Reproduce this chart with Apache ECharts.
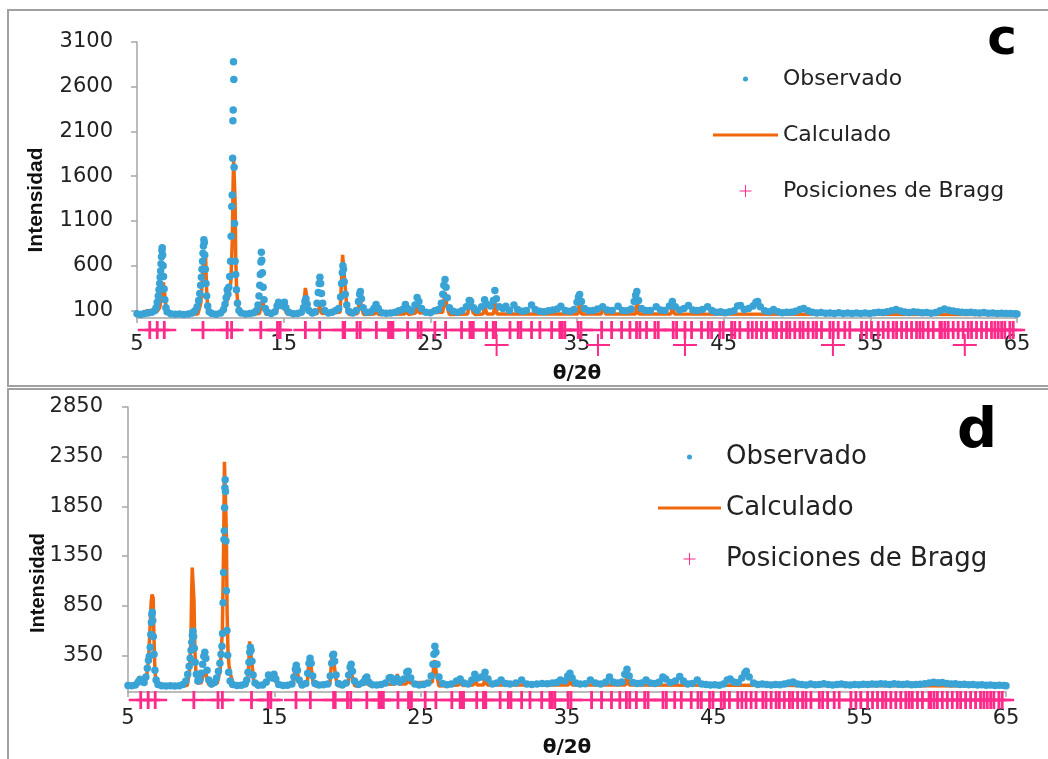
<!DOCTYPE html>
<html><head><meta charset="utf-8">
<script src="https://cdn.jsdelivr.net/npm/echarts@6/dist/echarts.min.js"></script>
<style>html,body{margin:0;padding:0;background:#fff}#chart{width:1048px;height:759px}</style>
</head><body><div id="chart"></div>
<script>
// ---------- data ----------
const yTicksC = [100, 600, 1100, 1600, 2100, 2600, 3100];
const yTicksD = [350, 850, 1350, 1850, 2350, 2850];

const obsC = [[5.00,62],[5.25,55],[5.50,66],[5.75,72],[6.00,78],[6.20,95],[6.30,130],[6.38,190],[6.45,260],[6.50,330],[6.55,400],[6.58,470],[6.61,540],[6.64,620],[6.67,700],[6.70,770],[6.72,800],[6.75,720],[6.78,600],[6.81,480],[6.85,340],[6.90,220],[6.97,130],[7.05,85],[7.30,62],[7.60,56],[7.90,60],[8.20,55],[8.50,60],[8.75,70],[8.95,95],[9.10,140],[9.20,210],[9.28,290],[9.34,380],[9.39,470],[9.43,560],[9.47,650],[9.50,740],[9.53,820],[9.56,890],[9.59,860],[9.62,720],[9.66,560],[9.70,400],[9.75,260],[9.82,150],[9.92,85],[10.10,65],[10.40,58],[10.70,70],[10.90,110],[11.00,170],[11.08,240],[11.15,330],[11.20,280],[11.26,360],[11.32,480],[11.38,650],[11.42,930],[11.46,1260],[11.49,1390],[11.52,1800],[11.54,2220],[11.56,2340],[11.58,2880],[11.60,2680],[11.62,1700],[11.65,1070],[11.69,650],[11.73,500],[11.78,330],[11.85,180],[11.95,100],[12.10,70],[12.40,60],[12.70,66],[12.95,75],[13.15,100],[13.25,160],[13.32,260],[13.37,380],[13.41,500],[13.45,640],[13.48,750],[13.51,660],[13.55,520],[13.60,360],[13.66,220],[13.75,120],[13.90,80],[14.15,65],[14.40,85],[14.55,150],[14.65,190],[14.80,170],[14.95,150],[15.05,190],[15.15,130],[15.35,80],[15.65,62],[15.95,65],[16.20,80],[16.35,130],[16.45,200],[16.52,230],[16.60,170],[16.72,100],[16.95,70],[17.15,85],[17.28,180],[17.36,300],[17.42,400],[17.47,470],[17.52,400],[17.58,290],[17.66,180],[17.80,100],[18.05,70],[18.30,80],[18.55,100],[18.75,120],[18.88,250],[18.95,400],[19.00,520],[19.04,600],[19.08,560],[19.13,420],[19.20,280],[19.30,160],[19.45,90],[19.70,70],[19.95,100],[20.10,200],[20.18,280],[20.23,312],[20.30,230],[20.42,130],[20.65,80],[20.95,85],[21.15,120],[21.30,165],[21.45,120],[21.70,75],[22.00,68],[22.30,72],[22.60,80],[22.85,95],[23.10,110],[23.30,165],[23.45,120],[23.70,95],[23.95,160],[24.10,245],[24.22,200],[24.40,120],[24.70,80],[25.00,75],[25.30,95],[25.55,110],[25.75,180],[25.85,280],[25.92,380],[26.00,445],[26.07,360],[26.15,240],[26.30,130],[26.55,90],[26.85,80],[27.15,95],[27.45,140],[27.65,210],[27.75,200],[27.95,130],[28.20,100],[28.50,140],[28.70,220],[28.85,170],[29.10,150],[29.30,210],[29.40,323],[29.50,230],[29.70,140],[29.95,120],[30.15,145],[30.40,100],[30.70,160],[30.95,110],[31.25,90],[31.55,100],[31.90,160],[32.15,110],[32.45,90],[32.75,85],[33.05,95],[33.35,105],[33.65,115],[33.90,145],[34.20,100],[34.50,90],[34.80,110],[35.00,190],[35.10,250],[35.18,278],[35.30,200],[35.50,120],[35.80,95],[36.10,100],[36.40,115],[36.75,140],[37.05,105],[37.40,100],[37.80,145],[38.10,100],[38.40,95],[38.70,115],[38.90,200],[39.00,270],[39.08,312],[39.20,210],[39.40,120],[39.70,100],[40.00,100],[40.40,140],[40.70,105],[41.00,100],[41.30,150],[41.50,200],[41.70,140],[42.00,105],[42.30,120],[42.60,155],[42.90,105],[43.20,100],[43.55,110],[43.90,140],[44.20,100],[44.50,80],[44.80,85],[45.10,75],[45.40,85],[45.70,95],[45.95,150],[46.15,155],[46.40,110],[46.70,120],[47.00,150],[47.20,190],[47.32,200],[47.50,140],[47.80,95],[48.10,85],[48.40,110],[48.70,85],[49.00,75],[49.30,80],[49.60,78],[49.90,90],[50.20,110],[50.45,122],[50.75,95],[51.05,80],[51.35,72],[51.65,76],[51.95,68],[52.25,72],[52.55,66],[52.85,74],[53.15,66],[53.45,72],[53.75,64],[54.05,70],[54.35,64],[54.65,72],[54.95,66],[55.25,74],[55.55,78],[55.85,76],[56.15,86],[56.45,96],[56.75,110],[57.05,92],[57.35,82],[57.65,76],[57.95,86],[58.25,80],[58.55,74],[58.85,76],[59.15,68],[59.45,76],[59.75,96],[60.05,115],[60.35,102],[60.65,92],[60.95,86],[61.25,80],[61.55,76],[61.85,80],[62.15,74],[62.45,70],[62.75,76],[63.05,68],[63.35,72],[63.65,66],[63.95,68],[64.25,64],[64.55,66],[64.85,62],[65.00,60]];

const calcC = [[5.0,55],[5.5,58],[5.65,95],[6.2,100],[6.35,85],[6.55,130],[6.66,250],[6.74,380],[6.8,412],[6.88,405],[6.94,200],[7.02,80],[7.2,55],[9.15,60],[9.35,180],[9.46,450],[9.54,680],[9.6,700],[9.68,690],[9.74,350],[9.82,130],[9.95,60],[10.85,70],[11.05,160],[11.25,260],[11.4,420],[11.5,900],[11.55,1500],[11.59,1780],[11.65,1760],[11.69,1300],[11.73,700],[11.79,350],[11.88,160],[12.05,70],[12.3,55],[13.35,65],[13.5,180],[13.58,220],[13.66,120],[13.8,55],[14.5,70],[14.65,170],[14.78,130],[14.92,140],[15.02,170],[15.15,80],[15.3,55],[16.3,65],[16.42,250],[16.48,350],[16.58,340],[16.66,160],[16.8,60],[17.3,65],[17.45,150],[17.6,65],[18.85,80],[18.96,500],[19.02,720],[19.12,700],[19.2,350],[19.32,100],[19.45,55],[20.05,65],[20.2,260],[20.32,120],[20.45,55],[21.2,60],[21.3,120],[21.45,55],[23.25,60],[23.35,120],[23.5,55],[24.0,70],[24.12,200],[24.25,70],[25.85,80],[25.95,250],[26.02,300],[26.12,150],[26.3,55],[27.55,60],[27.68,220],[27.75,245],[27.9,80],[28.05,55],[28.6,60],[28.72,150],[28.85,60],[29.3,60],[29.42,180],[29.55,60],[35.05,60],[35.18,200],[35.3,60],[36.65,60],[36.8,150],[36.95,60],[39.0,60],[39.1,230],[39.22,60],[41.4,60],[41.52,160],[41.65,60],[65.0,55]];

const obsD = [[5.00,45],[5.25,42],[5.50,50],[5.70,80],[5.82,105],[5.95,85],[6.10,75],[6.22,130],[6.32,220],[6.40,300],[6.46,340],[6.52,430],[6.56,560],[6.60,680],[6.63,760],[6.66,782],[6.69,700],[6.73,540],[6.78,360],[6.84,200],[6.92,100],[7.05,55],[7.30,42],[7.60,40],[7.90,44],[8.20,40],[8.50,44],[8.75,55],[8.95,90],[9.08,160],[9.18,240],[9.25,320],[9.31,400],[9.36,480],[9.40,550],[9.44,591],[9.48,540],[9.53,420],[9.59,280],[9.67,160],[9.77,90],[9.90,100],[10.00,170],[10.10,260],[10.18,340],[10.25,380],[10.32,320],[10.40,200],[10.52,100],[10.70,60],[10.90,75],[11.05,120],[11.18,190],[11.28,270],[11.36,360],[11.42,440],[11.46,570],[11.50,880],[11.53,1183],[11.56,1515],[11.58,1605],[11.60,1836],[11.62,2037],[11.64,2117],[11.66,2000],[11.69,1500],[11.72,1000],[11.76,600],[11.81,350],[11.88,180],[11.98,90],[12.15,55],[12.45,45],[12.75,48],[13.00,60],[13.12,100],[13.20,180],[13.27,280],[13.32,380],[13.36,430],[13.41,400],[13.47,290],[13.55,150],[13.68,70],[13.90,48],[14.20,50],[14.45,80],[14.60,150],[14.72,130],[14.85,120],[14.98,159],[15.10,110],[15.30,55],[15.60,45],[15.90,48],[16.20,60],[16.34,130],[16.44,210],[16.50,250],[16.58,200],[16.70,100],[16.90,50],[17.15,65],[17.28,170],[17.37,270],[17.44,320],[17.52,270],[17.62,140],[17.78,65],[18.05,50],[18.35,52],[18.65,60],[18.82,140],[18.92,270],[18.99,350],[19.05,360],[19.12,290],[19.22,150],[19.38,65],[19.65,50],[19.90,70],[20.08,150],[20.18,230],[20.25,260],[20.34,190],[20.48,90],[20.75,55],[21.05,75],[21.22,115],[21.32,130],[21.45,80],[21.70,52],[22.00,50],[22.30,55],[22.60,70],[22.85,120],[22.95,125],[23.15,80],[23.38,115],[23.55,80],[23.85,110],[24.05,180],[24.15,190],[24.32,120],[24.60,60],[24.90,50],[25.20,55],[25.50,70],[25.72,140],[25.84,260],[25.91,360],[25.97,440],[26.04,380],[26.12,260],[26.25,130],[26.50,65],[26.80,52],[27.10,60],[27.45,90],[27.70,110],[27.95,70],[28.25,60],[28.50,100],[28.70,160],[28.90,120],[29.15,130],[29.40,180],[29.60,110],[29.90,60],[30.20,70],[30.50,100],[30.80,65],[31.10,60],[31.50,70],[31.90,100],[32.25,60],[32.60,55],[32.95,60],[33.30,65],[33.65,62],[34.00,70],[34.30,75],[34.55,100],[34.85,90],[35.05,140],[35.20,170],[35.35,120],[35.60,70],[35.90,60],[36.25,62],[36.60,100],[36.95,70],[37.30,60],[37.65,80],[37.90,130],[38.15,80],[38.45,70],[38.75,80],[38.95,160],[39.10,210],[39.25,140],[39.50,75],[39.80,65],[40.10,70],[40.40,100],[40.70,70],[41.00,65],[41.30,80],[41.55,130],[41.75,110],[42.05,75],[42.40,90],[42.70,135],[42.95,90],[43.25,60],[43.55,65],[43.90,100],[44.20,60],[44.50,55],[44.80,50],[45.10,52],[45.40,48],[45.70,60],[45.95,100],[46.15,110],[46.40,80],[46.70,75],[46.95,120],[47.15,170],[47.25,190],[47.45,130],[47.75,70],[48.05,55],[48.35,60],[48.65,55],[48.95,50],[49.25,55],[49.55,52],[49.85,60],[50.15,70],[50.45,80],[50.75,60],[51.05,55],[51.35,50],[51.65,60],[51.95,52],[52.25,55],[52.55,62],[52.85,55],[53.15,50],[53.45,55],[53.75,60],[54.05,52],[54.35,50],[54.65,55],[54.95,52],[55.25,58],[55.55,55],[55.85,60],[56.15,58],[56.45,62],[56.75,60],[57.05,55],[57.35,62],[57.65,58],[57.95,55],[58.25,60],[58.55,52],[58.85,55],[59.15,58],[59.45,62],[59.75,70],[60.05,78],[60.35,72],[60.65,75],[60.95,65],[61.25,60],[61.55,62],[61.85,55],[62.15,58],[62.45,52],[62.75,55],[63.05,50],[63.35,52],[63.65,48],[63.95,50],[64.25,46],[64.55,48],[64.85,45],[65.00,44]];

const calcD = [[5.0,40],[5.5,42],[5.65,90],[5.75,130],[5.9,125],[6.02,60],[6.25,110],[6.4,300],[6.5,600],[6.58,880],[6.64,962],[6.72,930],[6.77,550],[6.84,200],[6.92,70],[7.05,40],[9.05,45],[9.2,180],[9.3,500],[9.35,1000],[9.39,1233],[9.47,1215],[9.51,900],[9.57,400],[9.65,150],[9.75,70],[10.0,70],[10.15,150],[10.25,200],[10.35,150],[10.5,60],[10.7,40],[11.1,70],[11.3,200],[11.45,600],[11.54,1500],[11.59,2298],[11.67,2280],[11.72,1600],[11.77,800],[11.83,400],[11.9,250],[12.0,160],[12.15,80],[12.35,40],[13.15,60],[13.25,250],[13.31,490],[13.4,475],[13.48,250],[13.6,80],[13.75,40],[14.5,60],[14.6,170],[14.7,130],[14.85,140],[14.98,170],[15.1,80],[15.3,40],[16.3,60],[16.42,230],[16.48,270],[16.58,260],[16.7,70],[16.85,40],[17.25,60],[17.36,290],[17.42,340],[17.52,330],[17.65,70],[17.8,40],[18.8,60],[18.92,310],[18.98,390],[19.08,380],[19.2,120],[19.35,40],[20.05,60],[20.18,230],[20.24,250],[20.38,100],[20.5,40],[21.2,60],[21.3,130],[21.42,50],[23.3,60],[23.4,160],[23.52,60],[24.02,60],[24.12,200],[24.25,70],[25.8,80],[25.9,260],[25.96,300],[26.08,160],[26.25,40],[27.6,50],[27.72,100],[27.85,45],[28.6,50],[28.72,150],[28.85,50],[29.3,50],[29.42,160],[29.55,50],[35.1,50],[35.22,150],[35.35,50],[39.0,50],[39.12,200],[39.25,50],[65.0,40]];

// Bragg reflection positions (2θ)
const braggPos = [5.87,6.38,6.86,9.50,11.15,11.45,13.44,14.58,14.76,16.48,17.46,19.05,19.16,20.00,20.22,21.32,22.15,22.30,22.45,23.45,24.17,24.37,25.31,26.04,27.13,27.70,27.81,27.93,28.83,29.29,29.45,30.43,30.99,31.17,31.90,32.47,33.27,33.83,33.99,34.17,35.08,35.27,36.68,37.36,38.04,38.61,39.06,39.29,39.74,40.31,40.54,41.56,41.79,42.36,42.81,43.49,43.95,44.18,44.74,44.97,45.54,45.76,46.10,46.67,46.95,47.24,47.58,47.92,48.38,48.60,48.95,49.29,49.51,49.85,50.20,50.42,50.76,51.10,51.33,51.67,52.24,52.47,52.81,53.26,53.60,54.40,54.74,55.08,55.54,55.88,56.22,56.56,56.79,57.13,57.47,57.81,58.15,58.38,58.60,58.95,59.29,59.74,59.85,60.08,60.31,60.65,60.99,61.33,61.67,61.90,62.24,62.58,62.92,63.26,63.49,63.72,63.95,64.17,64.51,64.74];
const braggBigC = [29.52, 36.43, 42.36, 52.45, 61.44];

// ---------- styles ----------
const BLUE = '#3aa3d6', ORANGE = '#f0680e', PINK = '#ff2a8a', AXIS = '#a6a6a6', TXT = '#222';
const FONT = 'DejaVu Sans';
const CROSS = 'path://M10.6,0h2.8v18h-2.8zM0,7.75h24v2.5h-24z';
const CROSS_BIG = 'path://M11,0h2v22h-2zM0,10h24v2h-24z';
const ICON_DOT = 'path://M0,0M20,20M13.6,10A3.6,3.6,0,1,1,6.4,10A3.6,3.6,0,1,1,13.6,10Z';
const ICON_LINE = 'path://M0,0h65v3h-65z';
const ICON_CROSS = 'path://M0,0M20,20M9.3,1.5h1.4v17h-1.4zM1.5,9.3h17v1.4h-17z';

const chart = echarts.init(document.getElementById('chart'), null, {renderer: 'canvas'});

function mainX(grid) {
  return {gridIndex: grid, type: 'value', min: 5, max: 65, interval: 10,
    axisLine: {show: true, onZero: false, lineStyle: {color: AXIS, width: 1.5}},
    axisTick: {show: true, length: 5, lineStyle: {color: AXIS, width: 1.5}},
    axisLabel: {margin: 16, fontSize: 21, fontFamily: FONT, color: TXT},
    splitLine: {show: false},
    name: 'θ/2θ', nameLocation: 'middle', nameGap: 46,
    nameTextStyle: {fontSize: 20, fontWeight: 'bold', fontFamily: FONT, color: '#111'}};
}
function mainY(grid, min, max, ticks, margin) {
  return {gridIndex: grid, type: 'value', min: min, max: max,
    axisLine: {show: true, lineStyle: {color: AXIS, width: 1.5}},
    axisTick: {show: true, length: 6, customValues: ticks, lineStyle: {color: AXIS, width: 1.5}},
    axisLabel: {customValues: ticks, formatter: v => String(v), margin: margin, fontSize: 21, fontFamily: FONT, color: TXT},
    splitLine: {show: false}};
}
function hidX(grid) { return {gridIndex: grid, type: 'value', min: 5, max: 65, show: false}; }
function hidY(grid) { return {gridIndex: grid, type: 'value', min: 0, max: 1, show: false}; }

function legendOf(left, top, w, gap, fs) {
  return {left: left, top: top, orient: 'vertical', itemWidth: w, itemHeight: 14, itemGap: gap,
    selectedMode: false, symbolKeepAspect: true,
    textStyle: {fontSize: fs, fontFamily: FONT, color: TXT},
    data: [
      {name: 'Observado', icon: ICON_DOT, itemStyle: {color: BLUE, borderWidth: 0}},
      {name: 'Calculado', icon: ICON_LINE, itemStyle: {color: ORANGE, borderWidth: 0}},
      {name: 'Posiciones de Bragg', icon: ICON_CROSS, itemStyle: {color: PINK, borderWidth: 0}}
    ]};
}

function seriesFor(xi, yi, bxi, byi, obs, calc) {
  return [
    {name: 'Calculado', type: 'line', xAxisIndex: xi, yAxisIndex: yi, data: calc, symbol: 'none',
      lineStyle: {color: ORANGE, width: 3.5}, itemStyle: {color: ORANGE}, z: 2, silent: true},
    {name: 'Observado', type: 'scatter', xAxisIndex: xi, yAxisIndex: yi, data: obs, symbol: 'circle',
      symbolSize: 7.5, itemStyle: {color: BLUE, opacity: 1}, z: 3, silent: true},
    {name: 'Posiciones de Bragg', type: 'scatter', xAxisIndex: bxi, yAxisIndex: byi,
      data: braggPos.map(p => [p, 1]), symbol: CROSS, symbolSize: [24, 18], clip: false,
      itemStyle: {color: PINK, opacity: 1}, z: 4, silent: true}
  ];
}

const series = [].concat(
  seriesFor(0, 0, 1, 1, obsC, calcC),
  [{name: 'Bragg (fase 2)', type: 'scatter', xAxisIndex: 1, yAxisIndex: 1,
    data: braggBigC.map(p => [p, 0]), symbol: CROSS_BIG, symbolSize: [24, 22], clip: false,
    itemStyle: {color: PINK, opacity: 1}, z: 4, silent: true}],
  seriesFor(2, 2, 3, 3, obsD, calcD)
);

chart.setOption({
  animation: false,
  backgroundColor: '#fff',
  grid: [
    {left: 137, top: 42, width: 880, height: 276},
    {left: 137, top: 330, width: 880, height: 15},
    {left: 128, top: 407, width: 878, height: 286},
    {left: 128, top: 700, width: 878, height: 15}
  ],
  xAxis: [mainX(0), hidX(1), mainX(2), hidX(3)],
  yAxis: [mainY(0, 15, 3100, yTicksC, 24), hidY(1), mainY(2, -20, 2850, yTicksD, 25), hidY(3)],
  legend: [legendOf(708, 63, 65, 34, 22), legendOf(653, 439, 63, 25, 26)],
  graphic: [
    {type: 'rect', shape: {x: 8, y: 10, width: 1060, height: 376}, style: {fill: 'none', stroke: '#a0a0a0', lineWidth: 2}, silent: true},
    {type: 'rect', shape: {x: 8, y: 389, width: 1060, height: 400}, style: {fill: 'none', stroke: '#a0a0a0', lineWidth: 2}, silent: true},
    {type: 'text', x: 1002, y: 41, style: {text: 'c', font: 'bold 50px "DejaVu Sans"', fill: '#000', align: 'center', verticalAlign: 'middle'}},
    {type: 'text', x: 977, y: 432, style: {text: 'd', font: 'bold 56px "DejaVu Sans"', fill: '#000', align: 'center', verticalAlign: 'middle'}},
    {type: 'text', x: 36, y: 200, rotation: Math.PI / 2, style: {text: 'Intensidad', font: 'bold 21px "Liberation Sans"', fill: '#111', align: 'center', verticalAlign: 'middle'}},
    {type: 'text', x: 38, y: 583, rotation: Math.PI / 2, style: {text: 'Intensidad', font: 'bold 20px "Liberation Sans"', fill: '#111', align: 'center', verticalAlign: 'middle'}}
  ],
  series: series
});
</script>
</body></html>
